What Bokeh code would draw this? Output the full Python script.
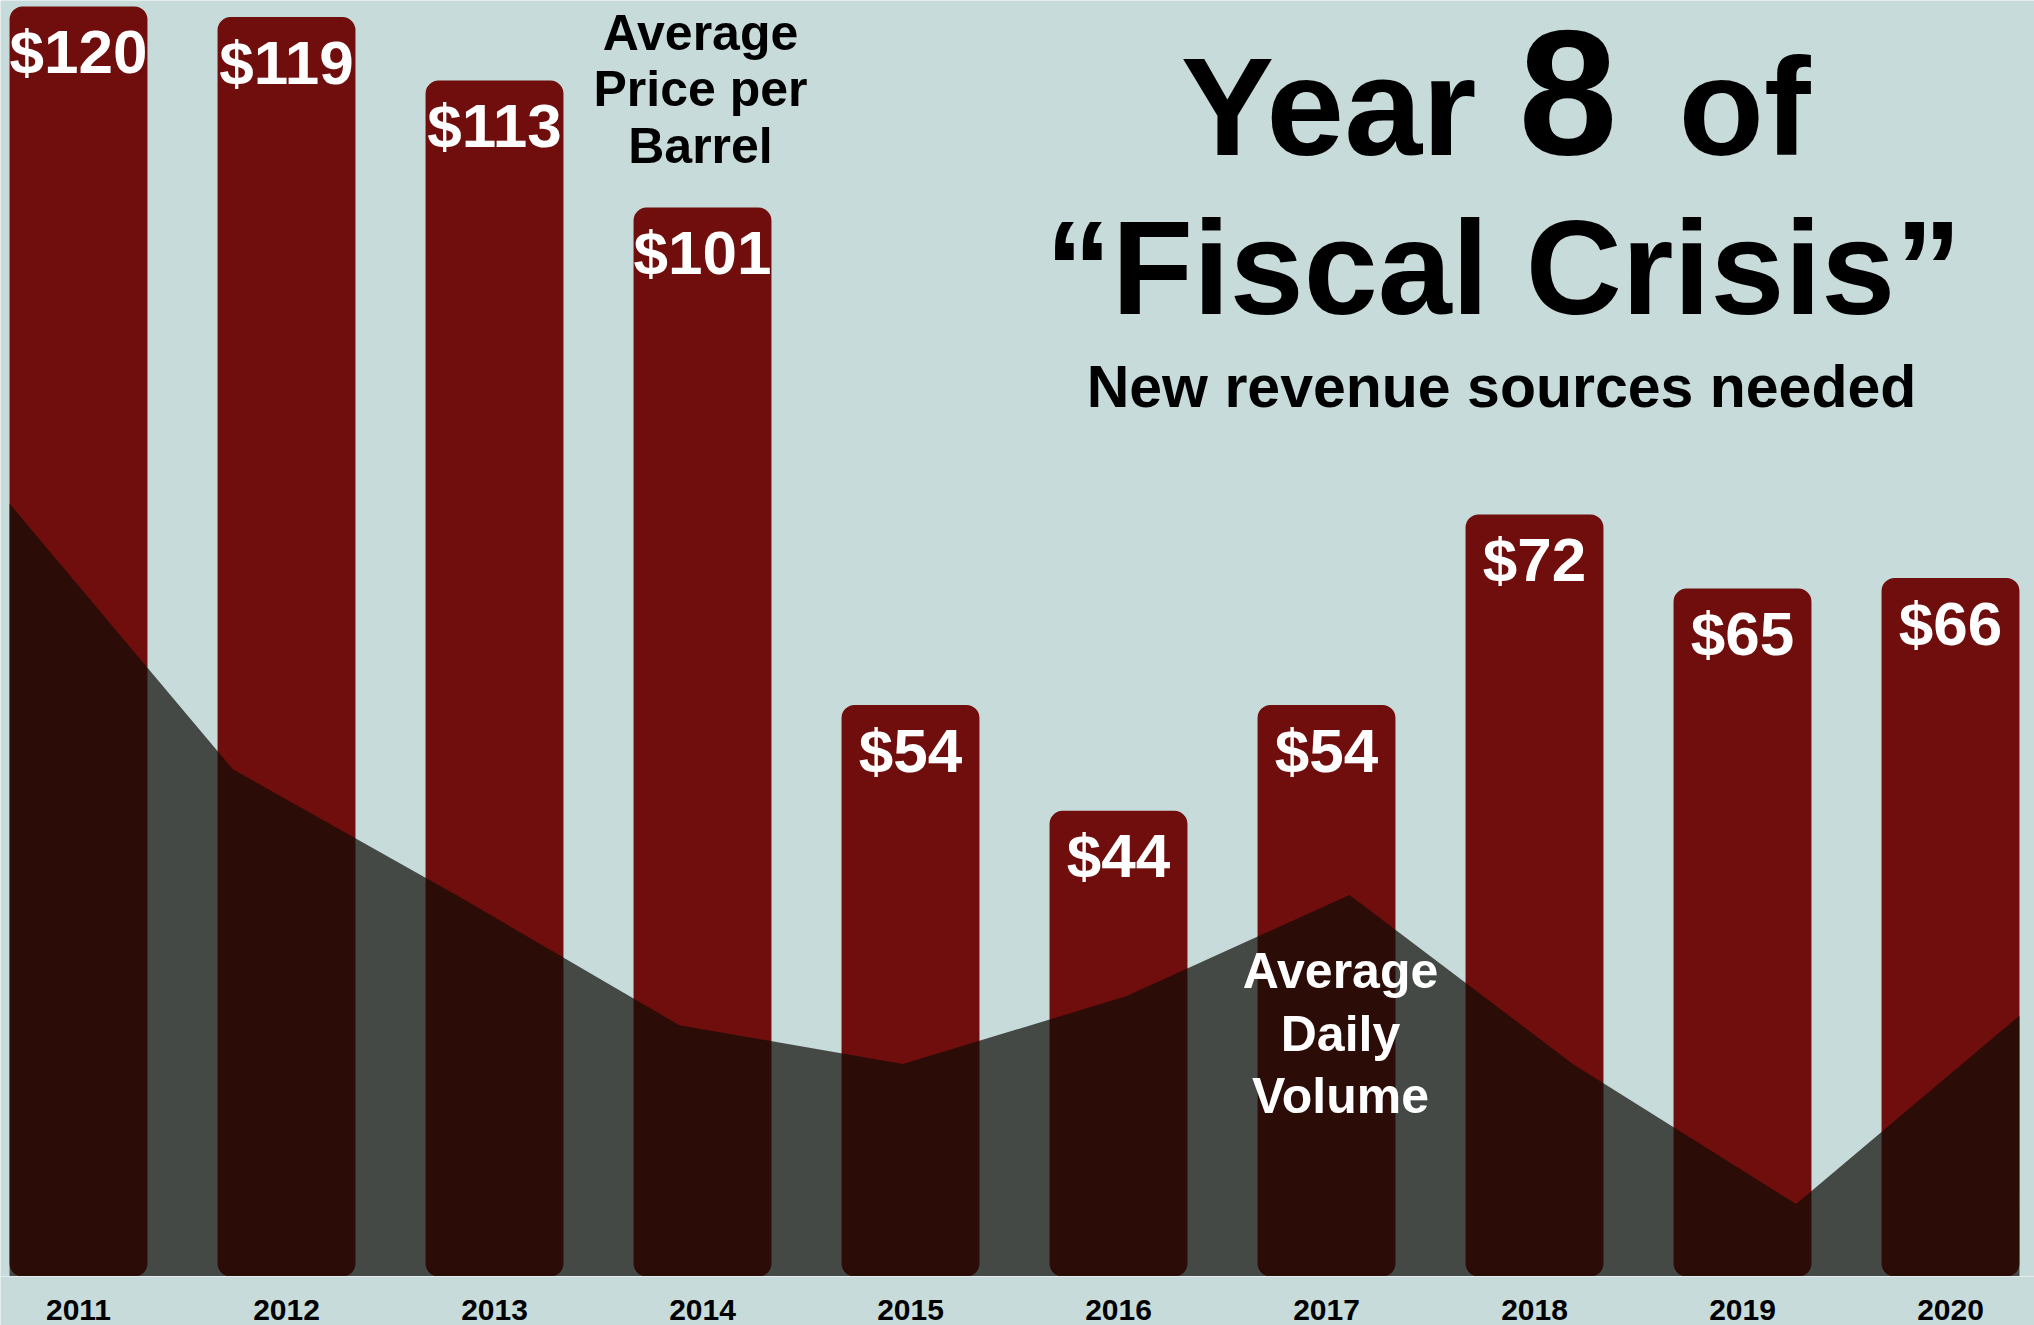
from bokeh.plotting import figure
from bokeh.models import Range1d, FixedTicker, ColumnDataSource
from bokeh.core.properties import value
from bokeh.embed import file_html
from bokeh.resources import INLINE

# ---- data ----
years = [2011, 2012, 2013, 2014, 2015, 2016, 2017, 2018, 2019, 2020]
price = [120, 119, 113, 101, 54, 44, 54, 72, 65, 66]
price_labels = ["$120", "$119", "$113", "$101", "$54", "$44", "$54", "$72", "$65", "$66"]
volume = [600, 545, 519, 492, 484, 498, 519, 484, 455, 494]
year_labels = ["2011", "2012", "2013", "2014", "2015", "2016", "2017", "2018", "2019", "2020"]
vol_base = 440

# ---- style ----
BG = "#C6DBDA"
RED = "#6F0E0C"
SHADE = "#0E0C06"
FONT = "Liberation Sans"

W, H = 2034, 1325
BAR_W = 0.663
PX_PER_USD = 10.583      # pixels per dollar
PX_PER_VOL = 4.83        # pixels per volume unit
BASE_ROW = 1276          # pixel row of the zero line


def dx(rx):
    return 2011 + (rx - 78) / 208.0


def dy(ry):
    return (BASE_ROW - ry) / PX_PER_USD


p = figure(width=W, height=H, output_backend="svg", toolbar_location=None,
           x_range=Range1d(dx(0), dx(W)), y_range=Range1d(dy(H), dy(0)),
           y_axis_location=None, x_axis_location="below",
           min_border=0,
           background_fill_color=BG, border_fill_color=BG, outline_line_color=None)
p.extra_y_ranges = {"vol": Range1d(vol_base - (H - BASE_ROW) / PX_PER_VOL,
                                   vol_base + BASE_ROW / PX_PER_VOL)}
p.grid.visible = False

ax = p.xaxis[0]
ax.fixed_location = 0
ax.ticker = FixedTicker(ticks=years)
ax.major_label_overrides = {y: l for y, l in zip(years, year_labels)}
ax.axis_line_color = "#E4ECEC"
ax.axis_line_width = 1
ax.major_tick_line_color = None
ax.minor_tick_line_color = None
ax.major_label_text_font = FONT
ax.major_label_text_font_size = "30px"
ax.major_label_text_font_style = "bold"
ax.major_label_text_color = "black"
ax.major_label_standoff = 17

# bars
p.vbar(x=years, top=price, bottom=0, width=BAR_W, fill_color=RED, line_color=None,
       border_radius=13)

# volume area, spread across the span of the bars
n = len(years)
xa = [years[0] - BAR_W / 2 + i * (years[-1] - years[0] + BAR_W) / (n - 1) for i in range(n)]
p.varea(x=xa, y1=vol_base, y2=volume, y_range_name="vol", fill_color=SHADE, fill_alpha=0.7)

# price labels on bars
src = ColumnDataSource(dict(x=years, y=price, t=price_labels))
p.text(x="x", y="y", text="t", source=src, y_offset=45, text_align="center",
       text_baseline="alphabetic", text_color="white", text_font=value(FONT),
       text_font_size="62px", text_font_style="bold")


def lab(text, rx, ry, size, align="center", color="black"):
    # ry is the baseline row; compensate the renderer's baseline placement
    ry_anchor = ry - 0.345 * size
    p.text(x=[dx(rx)], y=[dy(ry_anchor)], text=[text], text_font=value(FONT),
           text_font_size=f"{size}px", text_font_style="bold",
           text_align=align, text_baseline="alphabetic", text_color=color)


# title block
lab("Year", 1476, 154, 140, align="right")
lab("8", 1518, 153, 178, align="left")
lab("of", 1678, 154, 140, align="left")
lab("\u201cFiscal Crisis\u201d", 1503, 313, 133)
lab("New revenue sources needed", 1501, 407, 59)

# series annotations
for t, ry in zip(["Average", "Price per", "Barrel"], [50, 106, 163]):
    lab(t, 700, ry, 50)
for t, ry in zip(["Average", "Daily", "Volume"], [988, 1051, 1113]):
    lab(t, 1340, ry, 50, color="white")

open("out.html", "w").write(file_html(p, INLINE))
